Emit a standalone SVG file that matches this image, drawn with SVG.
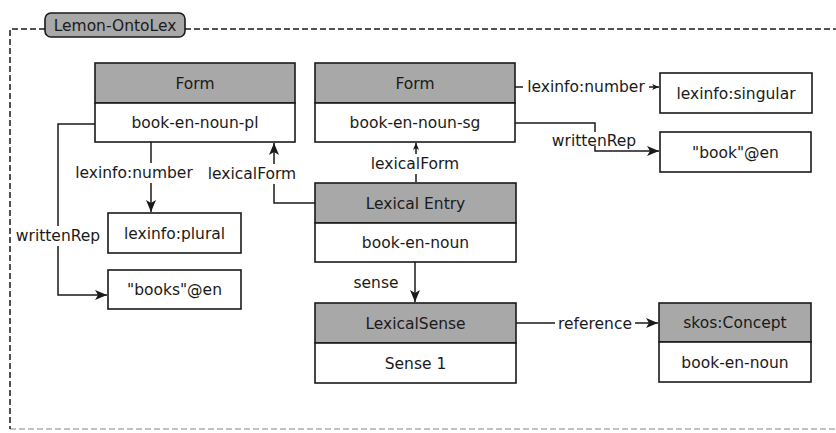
<svg xmlns="http://www.w3.org/2000/svg" width="836" height="433" viewBox="0 0 836 433">
  <style>
    text { font-family: "DejaVu Sans", "Liberation Sans", sans-serif; font-size: 15.5px; fill: #1a1a1a; text-anchor: middle; }
    .box { fill: #ffffff; stroke: #1a1a1a; stroke-width: 1.6; }
    .head { fill: #a8a8a8; stroke: #1a1a1a; stroke-width: 1.6; }
    .edge { fill: none; stroke: #1a1a1a; stroke-width: 1.5; }
    .lbl { fill: #ffffff; stroke: none; }
    .frame { fill: none; stroke: #1a1a1a; stroke-width: 1.5; stroke-dasharray: 6 3; }
  </style>
  <defs>
    <marker id="arrow" viewBox="0 0 12 10" refX="12" refY="5" markerWidth="12" markerHeight="10" markerUnits="userSpaceOnUse" orient="auto">
      <path d="M0,0 L12,5 L0,10 L3,5 Z" fill="#1a1a1a"/>
    </marker>
    <marker id="arrowSmall" viewBox="0 0 8 7" refX="8" refY="3.5" markerWidth="7" markerHeight="6" markerUnits="userSpaceOnUse" orient="auto">
      <path d="M0,0 L8,3.5 L0,7 L2,3.5 Z" fill="#1a1a1a"/>
    </marker>
  </defs>

  <rect width="836" height="433" fill="#ffffff"/>

  <!-- package frame -->
  <g id="frame">
    <path class="frame" d="M45,29 H10 V429"/>
    <path class="frame" d="M185,29 H840"/>
    <path class="frame" d="M10,429 H840" stroke-opacity="0.35"/>
    <rect x="45" y="13" width="140" height="24" rx="6" ry="6" fill="#a8a8a8" stroke="#1a1a1a" stroke-width="1.6"/>
    <text x="115" y="30.5">Lemon-OntoLex</text>
  </g>

  <!-- connectors -->
  <g id="connectors">
    <!-- Form (pl) -> lexinfo:plural -->
    <path class="edge" d="M151,142 V212" marker-end="url(#arrow)"/>
    <rect class="lbl" x="74" y="163" width="122" height="20"/>
    <text x="134" y="178">lexinfo:number</text>

    <!-- Form (pl) -> "books"@en -->
    <path class="edge" d="M95,124 H58 V295 H107" marker-end="url(#arrow)"/>
    <rect class="lbl" x="14" y="226" width="89" height="20"/>
    <text x="58" y="241">writtenRep</text>

    <!-- Lexical Entry -> Form (pl) -->
    <path class="edge" d="M315,203 H274 V143" marker-end="url(#arrow)"/>
    <rect class="lbl" x="206" y="164" width="93" height="20"/>
    <text x="252" y="179">lexicalForm</text>

    <!-- Lexical Entry -> Form (sg) -->
    <path class="edge" d="M416,182 V143" marker-end="url(#arrowSmall)"/>
    <rect class="lbl" x="368" y="154" width="94" height="20"/>
    <text x="415" y="169">lexicalForm</text>

    <!-- Form (sg) -> lexinfo:singular -->
    <path class="edge" d="M515,87 H659" marker-end="url(#arrowSmall)"/>
    <rect class="lbl" x="523" y="77" width="126" height="20"/>
    <text x="586" y="92">lexinfo:number</text>

    <!-- Form (sg) -> "book"@en -->
    <path class="edge" d="M515,123 H595 V151 H659" marker-end="url(#arrow)"/>
    <rect class="lbl" x="548" y="132" width="91" height="14"/>
    <text x="594" y="146">writtenRep</text>

    <!-- Lexical Entry -> LexicalSense -->
    <path class="edge" d="M415,262 V302" marker-end="url(#arrow)"/>
    <text x="376" y="288">sense</text>

    <!-- LexicalSense -> skos:Concept -->
    <path class="edge" d="M516,323 H658" marker-end="url(#arrow)"/>
    <rect class="lbl" x="555" y="314" width="80" height="18"/>
    <text x="595" y="329">reference</text>
  </g>

  <!-- nodes -->
  <g id="form-pl">
    <rect class="head" x="95" y="63" width="200" height="40"/>
    <rect class="box" x="95" y="103" width="200" height="39"/>
    <text x="195" y="88.5">Form</text>
    <text x="195" y="128">book-en-noun-pl</text>
  </g>

  <g id="form-sg">
    <rect class="head" x="315" y="63" width="200" height="40"/>
    <rect class="box" x="315" y="103" width="200" height="39"/>
    <text x="415" y="88.5">Form</text>
    <text x="415" y="128">book-en-noun-sg</text>
  </g>

  <g id="lexical-entry">
    <rect class="head" x="315" y="183" width="201" height="40"/>
    <rect class="box" x="315" y="223" width="201" height="39"/>
    <text x="415.5" y="208.5">Lexical Entry</text>
    <text x="415.5" y="248">book-en-noun</text>
  </g>

  <g id="lexical-sense">
    <rect class="head" x="315" y="303" width="201" height="40"/>
    <rect class="box" x="315" y="343" width="201" height="40"/>
    <text x="415.5" y="328.5">LexicalSense</text>
    <text x="415.5" y="368.5">Sense 1</text>
  </g>

  <g id="skos-concept">
    <rect class="head" x="659" y="303" width="152" height="39"/>
    <rect class="box" x="659" y="342" width="152" height="40"/>
    <text x="735" y="328">skos:Concept</text>
    <text x="735" y="367.5">book-en-noun</text>
  </g>

  <g id="lexinfo-singular">
    <rect class="box" x="660" y="73" width="152" height="40"/>
    <text x="736" y="98.5">lexinfo:singular</text>
  </g>

  <g id="book-en">
    <rect class="box" x="660" y="132" width="151" height="40"/>
    <text x="735.5" y="157.5">"book"@en</text>
  </g>

  <g id="lexinfo-plural">
    <rect class="box" x="108" y="213" width="133" height="40"/>
    <text x="174.5" y="238.5">lexinfo:plural</text>
  </g>

  <g id="books-en">
    <rect class="box" x="108" y="270" width="133" height="39"/>
    <text x="174.5" y="295">"books"@en</text>
  </g>
</svg>
